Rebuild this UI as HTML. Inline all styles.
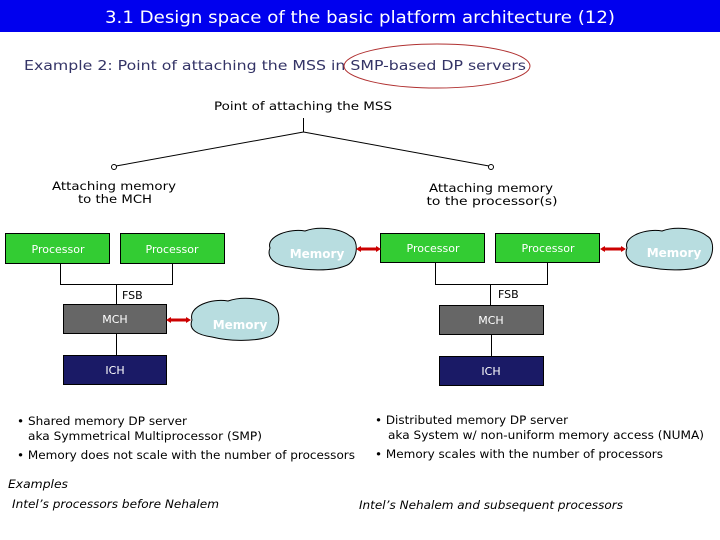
<!DOCTYPE html>
<html><head><meta charset="utf-8"><style>
html,body{margin:0;padding:0;background:#fff}
svg{display:block}
text{font-family:"DejaVu Sans","Liberation Sans",sans-serif}
</style></head><body>
<svg width="720" height="540" viewBox="0 0 720 540" xmlns="http://www.w3.org/2000/svg">
<rect x="0" y="0" width="720" height="32" fill="#0000ee"/>
<text x="360" y="23" font-size="17" fill="#fff" text-anchor="middle" textLength="510" lengthAdjust="spacingAndGlyphs" font-family="Liberation Sans">3.1 Design space of the basic platform architecture (12)</text>
<text x="24" y="70" font-size="13" fill="#333366" textLength="502" lengthAdjust="spacingAndGlyphs">Example 2: Point of attaching the MSS in SMP-based DP servers</text>
<ellipse cx="437" cy="66" rx="93" ry="22" fill="none" stroke="#b03030" stroke-width="1"/>
<text x="303" y="110" font-size="11.5" fill="#000" text-anchor="middle" textLength="178" lengthAdjust="spacingAndGlyphs">Point of attaching the MSS</text>
<g stroke="#000" stroke-width="1" fill="none">
<line x1="303.5" y1="118" x2="303.5" y2="132"/>
<line x1="303.5" y1="132" x2="116" y2="166"/>
<line x1="303.5" y1="132" x2="489" y2="166"/>
<circle cx="114" cy="167" r="2.5" fill="#fff"/>
<circle cx="491" cy="167" r="2.5" fill="#fff"/>
</g>
<g font-size="11.5" fill="#000" text-anchor="middle">
<text x="114" y="190" textLength="124" lengthAdjust="spacingAndGlyphs">Attaching memory</text>
<text x="115" y="203" textLength="74" lengthAdjust="spacingAndGlyphs">to the MCH</text>
<text x="491" y="192" textLength="124" lengthAdjust="spacingAndGlyphs">Attaching memory</text>
<text x="492" y="205" textLength="131" lengthAdjust="spacingAndGlyphs">to the processor(s)</text>
</g>
<g stroke="#000" stroke-width="1" fill="none">
<path d="M60.5 263V284.5H172.5V263"/>
<line x1="116.5" y1="284" x2="116.5" y2="304"/>
<line x1="116.5" y1="333" x2="116.5" y2="355"/>
<path d="M435.5 262V284.5H547.5V262"/>
<line x1="490.5" y1="284" x2="490.5" y2="305"/>
<line x1="491.5" y1="334" x2="491.5" y2="356"/>
</g>
<g font-size="11" fill="#000">
<text x="122" y="299">FSB</text>
<text x="498" y="298">FSB</text>
</g>
<g stroke="#000" stroke-width="1">
<rect x="5.5" y="233.5" width="104" height="30" fill="#33cc33"/>
<rect x="120.5" y="233.5" width="104" height="30" fill="#33cc33"/>
<rect x="63.5" y="304.5" width="103" height="29" fill="#666666"/>
<rect x="63.5" y="355.5" width="103" height="29" fill="#1a1a66"/>
<rect x="380.5" y="233.5" width="104" height="29" fill="#33cc33"/>
<rect x="495.5" y="233.5" width="104" height="29" fill="#33cc33"/>
<rect x="439.5" y="305.5" width="104" height="29" fill="#666666"/>
<rect x="439.5" y="356.5" width="104" height="29" fill="#1a1a66"/>
</g>
<g font-size="11" fill="#fff" text-anchor="middle">
<text x="58" y="253">Processor</text>
<text x="172" y="253">Processor</text>
<text x="115" y="323">MCH</text>
<text x="115" y="374">ICH</text>
<text x="433" y="252">Processor</text>
<text x="548" y="252">Processor</text>
<text x="491" y="324">MCH</text>
<text x="491" y="375">ICH</text>
</g>
<g fill="#b8dde0" stroke="#000" stroke-width="1">
<path d="M270 248 C266 236 290 228 305 231 C318 226 340 228 350 236 C360 240 358 262 345 266 C330 272 305 270 290 267 C276 266 266 258 270 248Z"/>
<path d="M192 320 C188 306 212 298 228 301 C242 296 265 298 274 306 C282 312 280 334 268 337 C252 342 228 341 212 337 C198 335 188 330 192 320Z"/>
<path d="M627 248 C623 236 647 228 662 231 C675 226 697 228 707 236 C716 240 714 262 702 266 C687 272 662 270 647 267 C633 266 623 258 627 248Z"/>
</g>
<g font-size="12" font-weight="bold" fill="#fff" text-anchor="middle">
<text x="317" y="258">Memory</text>
<text x="240" y="329">Memory</text>
<text x="674" y="257">Memory</text>
</g>
<g stroke="#cc0000" stroke-width="3">
<line x1="169" y1="320" x2="188" y2="320"/>
<line x1="358" y1="249" x2="378" y2="249"/>
<line x1="602" y1="249" x2="623" y2="249"/>
</g>
<g fill="#cc0000">
<path d="M166 320l5-3v6z"/><path d="M191 320l-5-3v6z"/>
<path d="M356 249l5-3v6z"/><path d="M381 249l-5-3v6z"/>
<path d="M600 249l5-3v6z"/><path d="M626 249l-5-3v6z"/>
</g>
<g font-size="11.5" fill="#000">
<text x="17" y="425" textLength="170" lengthAdjust="spacingAndGlyphs">• Shared memory DP server</text>
<text x="28" y="440" textLength="234" lengthAdjust="spacingAndGlyphs">aka Symmetrical Multiprocessor (SMP)</text>
<text x="17" y="459" textLength="338" lengthAdjust="spacingAndGlyphs">• Memory does not scale with the number of processors</text>
<text x="375" y="424" textLength="193" lengthAdjust="spacingAndGlyphs">• Distributed memory DP server</text>
<text x="388" y="439" textLength="316" lengthAdjust="spacingAndGlyphs">aka System w/ non-uniform memory access (NUMA)</text>
<text x="375" y="458" textLength="288" lengthAdjust="spacingAndGlyphs">• Memory scales with the number of processors</text>
</g>
<g font-size="11.5" font-style="italic" fill="#000">
<text x="8" y="488" textLength="60" lengthAdjust="spacingAndGlyphs">Examples</text>
<text x="12" y="508" textLength="207" lengthAdjust="spacingAndGlyphs">Intel’s processors before Nehalem</text>
<text x="359" y="509" textLength="264" lengthAdjust="spacingAndGlyphs">Intel’s Nehalem and subsequent processors</text>
</g>
</svg>
</body></html>
